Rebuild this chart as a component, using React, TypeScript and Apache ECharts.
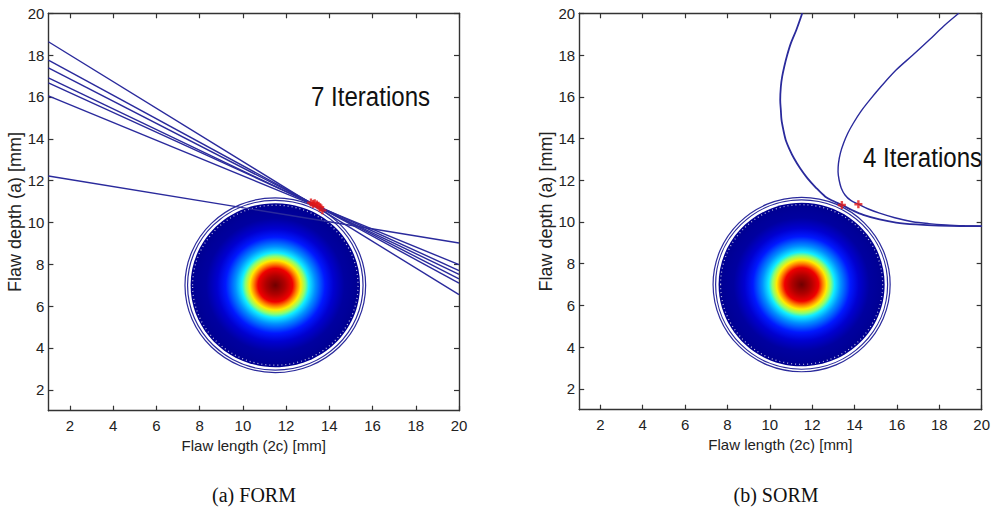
import React, { useEffect, useRef } from 'react';
import * as echarts from 'echarts';

// ---------- data ----------
const xTicks = [2, 4, 6, 8, 10, 12, 14, 16, 18, 20];
const yTicks = [2, 4, 6, 8, 10, 12, 14, 16, 18, 20];
const axisMin = 1;
const axisMax = 20;

// joint density of (2c, a): centre and colour bands (radius in mm, jet colour)
const densityCenter = [11.5, 7.0];
const densityFillRadius = 3.92;
const densityRadii = [0, 0.45, 0.8, 1.0, 1.18, 1.38, 1.55, 1.85, 2.3, 2.7, 3.2, 3.92];
const densityColors = ['#700000', '#b00000', '#f00000', '#ff8000', '#ffec00', '#8cff70', '#10eeff', '#0090ff', '#0018ff', '#0000d0', '#0000a0', '#000090'];
const contourRadii = [4.18, 4.06];

// FORM: linearised limit states (endpoints at 2c = 1 and 2c = 20)
const formLine1 = [[1, 18.64], [20, 6.55]];
const formLine2 = [[1, 17.76], [20, 7.1]];
const formLine3 = [[1, 17.39], [20, 7.3]];
const formLine4 = [[1, 16.91], [20, 7.52]];
const formLine5 = [[1, 16.67], [20, 7.7]];
const formLine6 = [[1, 16.05], [20, 7.98]];
const formLine7 = [[1, 12.22], [20, 9.02]];
const formLines = [formLine1, formLine2, formLine3, formLine4, formLine5, formLine6, formLine7];
const formDesignPoints = [[13.15, 10.95], [13.25, 10.88], [13.32, 10.92], [13.42, 10.86], [13.5, 10.8], [13.58, 10.72], [13.68, 10.58]];

// SORM: quadratic limit states
const sormCurveA = [
  [11.53, 20], [11.25, 19.2], [10.99, 18.56], [10.82, 18.0], [10.68, 17.44], [10.58, 16.95],
  [10.52, 16.48], [10.49, 15.85], [10.52, 15.35], [10.55, 14.9], [10.64, 14.4], [10.75, 13.93],
  [10.93, 13.48], [11.14, 13.05], [11.43, 12.57], [11.77, 12.1], [12.17, 11.65], [12.62, 11.21],
  [13.0, 11.0], [13.4, 10.81], [13.9, 10.56], [14.41, 10.34], [15.18, 10.12], [15.96, 9.97],
  [16.9, 9.88], [17.98, 9.82], [19.0, 9.8], [20, 9.8],
];
const sormCurveB = [
  [18.92, 20], [18.2, 19.38], [17.52, 18.72], [16.75, 18.0], [15.96, 17.28], [15.3, 16.55],
  [14.72, 15.85], [14.3, 15.3], [13.94, 14.73], [13.68, 14.25], [13.48, 13.77], [13.33, 13.3],
  [13.24, 12.81], [13.22, 12.4], [13.27, 12.01], [13.37, 11.63], [13.55, 11.29], [13.82, 11.03],
  [14.18, 10.85], [14.65, 10.62], [15.18, 10.42], [15.9, 10.2], [16.74, 10.01], [17.5, 9.92],
  [18.3, 9.86], [19.2, 9.82], [20, 9.8],
];
const sormDesignPoints = [[13.4, 10.81], [14.18, 10.85]];

// ---------- styling ----------
const LINE = '#2a2a9c';
const AXIS = '#333333';
const SANS = '"Liberation Sans", Arial, sans-serif';
const SERIF = '"Liberation Serif", "Times New Roman", serif';
const PLUS = 'path://M3.5,0H6.5V3.5H10V6.5H6.5V10H3.5V6.5H0V3.5H3.5Z';

const grids = [
  { left: 48.4, top: 13.3, width: 410.6, height: 397.4 },
  { left: 579.2, top: 13.3, width: 407.5, height: 396.4 },
];

function mainX(gridIndex: number) {
  return {
    type: 'value', gridIndex, min: axisMin, max: axisMax, position: 'bottom',
    name: 'Flaw length (2c) [mm]', nameLocation: 'middle', nameGap: 25,
    nameTextStyle: { fontFamily: SANS, fontSize: 15, color: '#222' },
    axisLine: { show: true, onZero: false, lineStyle: { color: AXIS, width: 1.4 } },
    axisTick: { show: true, inside: true, length: 5, customValues: xTicks, lineStyle: { color: AXIS, width: 1.2 } },
    axisLabel: { show: true, customValues: xTicks, margin: 7, fontFamily: SANS, fontSize: 15, color: '#222' },
    splitLine: { show: false },
  };
}
function topX(gridIndex: number) {
  return {
    type: 'value', gridIndex, min: axisMin, max: axisMax, position: 'top',
    axisLine: { show: true, onZero: false, lineStyle: { color: AXIS, width: 1.4 } },
    axisTick: { show: true, inside: true, length: 5, customValues: xTicks, lineStyle: { color: AXIS, width: 1.2 } },
    axisLabel: { show: false },
    splitLine: { show: false },
  };
}
function mainY(gridIndex: number) {
  return {
    type: 'value', gridIndex, min: axisMin, max: axisMax, position: 'left',
    name: 'Flaw depth (a) [mm]', nameLocation: 'middle', nameGap: 21,
    nameTextStyle: { fontFamily: SANS, fontSize: 18, color: '#222' },
    axisLine: { show: true, onZero: false, lineStyle: { color: AXIS, width: 1.4 } },
    axisTick: { show: true, inside: true, length: 5, customValues: yTicks, lineStyle: { color: AXIS, width: 1.2 } },
    axisLabel: { show: true, customValues: yTicks, margin: 4, fontFamily: SANS, fontSize: 15, color: '#222' },
    splitLine: { show: false },
  };
}
function rightY(gridIndex: number) {
  return {
    type: 'value', gridIndex, min: axisMin, max: axisMax, position: 'right',
    axisLine: { show: true, onZero: false, lineStyle: { color: AXIS, width: 1.4 } },
    axisTick: { show: true, inside: true, length: 5, customValues: yTicks, lineStyle: { color: AXIS, width: 1.2 } },
    axisLabel: { show: false },
    splitLine: { show: false },
  };
}

function densitySeries(axisIndex: number) {
  const maxR = densityRadii[densityRadii.length - 1];
  const stops = densityRadii.map((r, i) => ({ offset: r / maxR, color: densityColors[i] }));
  return {
    type: 'custom', coordinateSystem: 'cartesian2d', xAxisIndex: axisIndex, yAxisIndex: axisIndex,
    silent: true, z: 1,
    data: [[densityCenter[0], densityCenter[1], densityFillRadius]],
    encode: { x: 0, y: 1 },
    renderItem: (params: any, api: any) => {
      const c = api.coord([api.value(0), api.value(1)]);
      const r = api.value(2);
      const sz = api.size([r, r]);
      const children: any[] = [
        {
          type: 'ellipse',
          shape: { cx: c[0], cy: c[1], rx: sz[0], ry: sz[1] },
          style: { fill: new echarts.graphic.RadialGradient(0.5, 0.5, 0.5, stops) },
        },
        {
          type: 'ellipse',
          shape: { cx: c[0], cy: c[1], rx: sz[0] - 2, ry: sz[1] - 2 },
          style: { fill: 'none', stroke: '#ffffff', lineWidth: 1.2, lineDash: [1, 3], opacity: 0.75 },
        },
      ];
      return { type: 'group', children };
    },
  };
}

function contourSeries(axisIndex: number) {
  return {
    type: 'custom', coordinateSystem: 'cartesian2d', xAxisIndex: axisIndex, yAxisIndex: axisIndex,
    silent: true, z: 2,
    data: contourRadii.map((r) => [densityCenter[0], densityCenter[1], r]),
    encode: { x: 0, y: 1 },
    renderItem: (params: any, api: any) => {
      const c = api.coord([api.value(0), api.value(1)]);
      const r = api.value(2);
      const sz = api.size([r, r]);
      return {
        type: 'ellipse',
        shape: { cx: c[0], cy: c[1], rx: sz[0], ry: sz[1] },
        style: { fill: 'none', stroke: LINE, lineWidth: 1.2 },
      };
    },
  };
}

function lineSeries(data: number[][], axisIndex: number, smooth: number | boolean, width = 1.4) {
  return {
    type: 'line', xAxisIndex: axisIndex, yAxisIndex: axisIndex, data, smooth,
    symbol: 'none', silent: true, z: 3, clip: true,
    lineStyle: { color: LINE, width },
  };
}

function pointsSeries(data: number[][], axisIndex: number) {
  return {
    type: 'scatter', xAxisIndex: axisIndex, yAxisIndex: axisIndex, data,
    symbol: PLUS, symbolSize: 8, silent: true, z: 4,
    itemStyle: { color: '#e01818' },
  };
}

export default function App() {
  const ref = useRef<HTMLDivElement>(null);
  useEffect(() => {
    if (!ref.current) return;
    const chart = echarts.init(ref.current, undefined, { renderer: 'svg' });
    chart.setOption({
      animation: false,
      backgroundColor: '#ffffff',
      grid: grids,
      xAxis: [mainX(0), mainX(1), topX(0), topX(1)],
      yAxis: [mainY(0), mainY(1), rightY(0), rightY(1)],
      series: [
        densitySeries(0),
        contourSeries(0),
        ...formLines.map((l) => lineSeries(l, 0, false)),
        pointsSeries(formDesignPoints, 0),
        densitySeries(1),
        contourSeries(1),
        lineSeries(sormCurveA, 1, 0.3, 1.8),
        lineSeries(sormCurveB, 1, 0.3, 1.4),
        pointsSeries(sormDesignPoints, 1),
      ],
      graphic: [
        {
          type: 'text', x: 311, y: 96, scaleX: 0.86, silent: true,
          style: { text: '7 Iterations', font: `28px ${SANS}`, fill: '#111', textVerticalAlign: 'middle' },
        },
        {
          type: 'text', x: 863, y: 157, scaleX: 0.86, silent: true,
          style: { text: '4 Iterations', font: `28px ${SANS}`, fill: '#111', textVerticalAlign: 'middle' },
        },
        {
          type: 'text', x: 254, y: 495, silent: true,
          style: { text: '(a) FORM', font: `20px ${SERIF}`, fill: '#111', textAlign: 'center', textVerticalAlign: 'middle' },
        },
        {
          type: 'text', x: 776, y: 495, silent: true,
          style: { text: '(b) SORM', font: `20px ${SERIF}`, fill: '#111', textAlign: 'center', textVerticalAlign: 'middle' },
        },
      ],
    });
    return () => chart.dispose();
  }, []);
  return <div ref={ref} style={{ position: 'absolute', left: 0, top: 0, width: 993, height: 517 }} />;
}
